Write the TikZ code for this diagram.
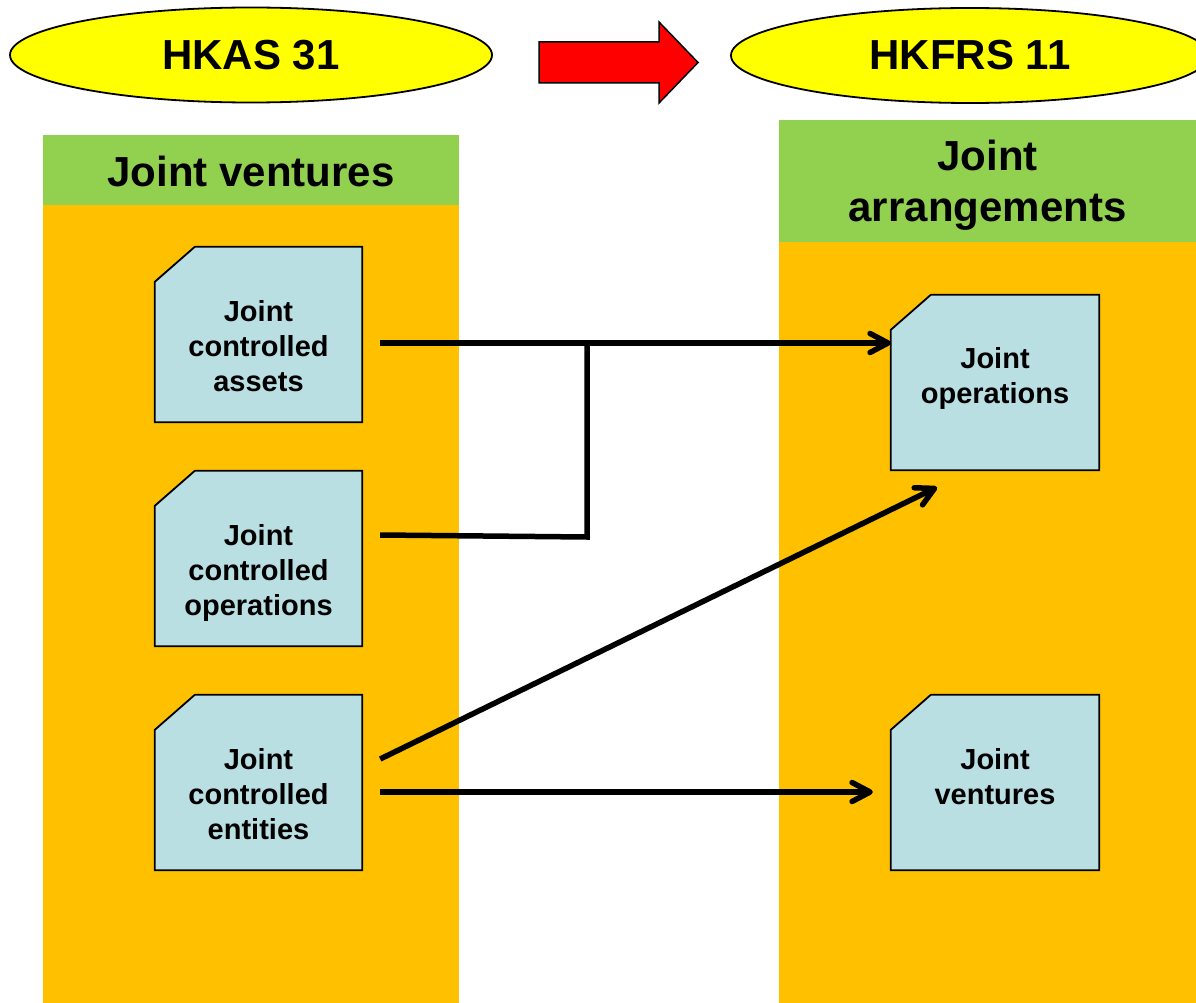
\documentclass[tikz,border=0pt]{standalone}
\usepackage{fontspec}
\setmainfont{Liberation Sans}
\usetikzlibrary{arrows.meta,shapes.geometric}
\definecolor{panelorange}{HTML}{FFC000}
\definecolor{headgreen}{HTML}{92D050}
\definecolor{boxblue}{HTML}{B9DFE3}
\definecolor{ovalyellow}{HTML}{FFFF00}
\definecolor{arrowred}{HTML}{FF0000}
\tikzset{
  panel/.style={fill=panelorange, draw=none, inner sep=0pt, anchor=north west},
  header/.style={fill=headgreen, draw=none, inner sep=0pt, anchor=north west},
  headtext/.style={align=center, inner sep=0pt, font=\fontsize{42}{51}\selectfont\bfseries},
  oval/.style={ellipse, fill=ovalyellow, draw=black, line width=1.8pt, inner sep=0pt,
    font=\fontsize{42}{50}\selectfont\bfseries},
  cbox/.style={draw=none, inner sep=0pt, minimum width=207pt, minimum height=175pt},
  cboxline/.style={fill=boxblue, draw=black, line width=1.8pt, line join=miter},
  boxtext/.style={align=center, inner sep=0pt, font=\fontsize{29}{35}\selectfont\bfseries},
  conn/.style={draw=black, line width=5.5pt},
  barb/.style={-{Straight Barb[length=18pt,width=19pt,line cap=round,line join=round]}},
}
% outline of a box with its top-left corner snipped off
\newcommand{\snipoutline}[1]{%
  \path[cboxline] ([yshift=-35pt]#1.north west) -- ([xshift=40pt]#1.north west)
    -- (#1.north east) -- (#1.south east) -- (#1.south west) -- cycle;}
\begin{document}
\begin{tikzpicture}[x=1pt,y=-1pt]
\clip (0,0) rectangle (1196,1003);
\fill[white] (0,0) rectangle (1196,1003);

% column panels and their headings
\node[panel, minimum width=416pt, minimum height=868pt] (lpanel) at (43,135) {};
\node[panel, minimum width=417pt, minimum height=883pt] (rpanel) at (779,120) {};
\node[header, minimum width=416pt, minimum height=70pt] (lhead) at (43,135) {};
\node[header, minimum width=417pt, minimum height=122pt] (rhead) at (779,120) {};
\node[headtext] (lheadt) at (251,171) {Joint ventures};
\node[headtext] (rheadt) at (987.5,185.5) {Joint\\arrangements};

% standards
\node[oval, minimum width=482pt, minimum height=95pt] (hkas) at (251,55) {HKAS 31};
\node[oval, minimum width=478pt, minimum height=95pt] (hkfrs) at (970,55.5) {HKFRS 11};
\path[fill=arrowred, draw=black, line width=1.5pt, line join=miter]
  (539,42) -- (659,42) -- (659,22) -- (698,62.5) -- (659,103) -- (659,83) -- (539,83) -- cycle;

% snipped boxes
\node[cbox] (b1) at (258.5,334.5) {};
\node[cbox] (b2) at (258.5,558.5) {};
\node[cbox] (b3) at (258.5,782.5) {};
\node[cbox, minimum width=208pt] (b4) at (995,382.5) {};
\node[cbox, minimum width=208pt] (b5) at (995,782.5) {};
\snipoutline{b1}
\snipoutline{b2}
\snipoutline{b3}
\snipoutline{b4}
\snipoutline{b5}
\node[boxtext] (b1t) at (258.5,346) {Joint\\controlled\\assets};
\node[boxtext] (b2t) at (258.5,572.5) {Joint\\controlled\\operations};
\node[boxtext] (b3t) at (258.5,794) {Joint\\controlled\\entities};
\node[boxtext] (b4t) at (995,378.5) {Joint\\operations};
\node[boxtext] (b5t) at (995,777) {Joint\\ventures};

% connectors
\coordinate (s1) at ([shift={(18pt,-8.5pt)}]b1.east);
\coordinate (s2) at ([shift={(18pt,23.5pt)}]b2.east);
\coordinate (s3a) at ([shift={(18pt,23.5pt)}]b3.east);
\coordinate (s3b) at ([shift={(18pt,-9.5pt)}]b3.east);
\coordinate (j) at (587,343);
\draw[conn, barb] (s1) -- (b4.west |- s1);
\draw[conn, line join=miter] (s2) -- ([yshift=-2pt]j |- s2) -- (j);
\draw[conn, barb] (s3a) -- ([shift={(-58pt,-17pt)}]b4.south);
\draw[conn, barb] (s3b) -- ([xshift=-18pt]b5.west |- s3b);
\end{tikzpicture}
\end{document}
